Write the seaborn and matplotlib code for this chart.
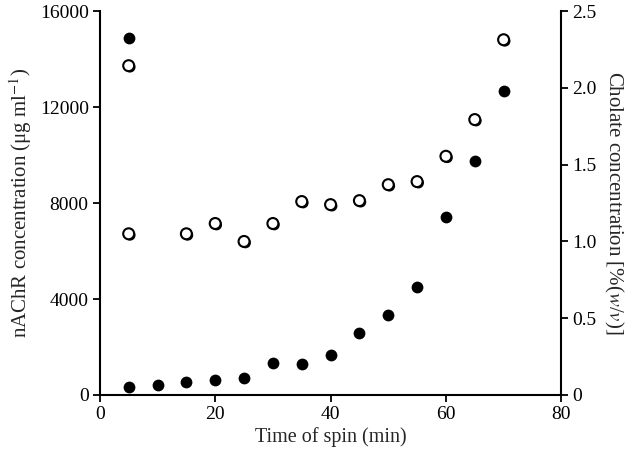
import matplotlib
matplotlib.use("Agg")
import matplotlib.pyplot as plt
import matplotlib.patheffects as pe
import seaborn as sns
import pandas as pd

# Data
time_filled = [5, 5, 10, 15, 20, 25, 30, 35, 40, 45, 50, 55, 60, 65, 70]
nachr_conc = [14900, 325, 410, 550, 615, 690, 1340, 1300, 1660, 2590, 3350, 4510, 7440, 9770, 12690]

time_open = [5, 5, 15, 20, 25, 30, 35, 40, 45, 50, 55, 60, 65, 70]
cholate_conc = [2.145, 1.05, 1.05, 1.117, 1.0, 1.117, 1.26, 1.24, 1.266, 1.37, 1.39, 1.555, 1.794, 2.314]

x_ticks = [0, 20, 40, 60, 80]
left_ticks = [0, 4000, 8000, 12000, 16000]
right_ticks = [0, 0.5, 1.0, 1.5, 2.0, 2.5]
right_ticklabels = ["0", "0.5", "1.0", "1.5", "2.0", "2.5"]

sns.set_style("ticks")
plt.rcParams["font.family"] = ["Liberation Serif", "DejaVu Serif"]
plt.rcParams["mathtext.fontset"] = "stix"

df_f = pd.DataFrame({"t": time_filled, "v": nachr_conc})
df_o = pd.DataFrame({"t": time_open, "v": cholate_conc})

fig = plt.figure(figsize=(6.4, 4.58), dpi=100)
ax = fig.add_axes([0.156, 0.1376, 0.721, 0.838])
ax2 = ax.twinx()

sns.scatterplot(data=df_f, x="t", y="v", ax=ax, color="black", s=72,
                edgecolor="black", linewidth=0, zorder=3, clip_on=False)
sns.scatterplot(data=df_o, x="t", y="v", ax=ax2, color="white", s=62,
                edgecolor="black", linewidth=1.5, zorder=3, clip_on=False)
for coll in ax2.collections:
    coll.set_path_effects([pe.SimplePatchShadow(offset=(1.0, -1.0), shadow_rgbFace="black", alpha=1.0),
                           pe.Normal()])

ax.set_xlim(0, 80)
ax.set_ylim(0, 16000)
ax2.set_ylim(0, 2.5)
ax.set_xticks(x_ticks)
ax.set_yticks(left_ticks)
ax2.set_yticks(right_ticks)
ax2.set_yticklabels(right_ticklabels)

for a in (ax, ax2):
    a.spines["top"].set_visible(False)
    for s in ("left", "right", "bottom"):
        a.spines[s].set_linewidth(1.5)
        a.spines[s].set_color("black")
    a.tick_params(direction="out", length=5, width=1.3, labelsize=14, colors="black", pad=3)
ax.spines["right"].set_visible(False)
ax2.spines["left"].set_visible(False)
ax2.spines["bottom"].set_visible(False)
ax2.spines["right"].set_visible(True)

ax.set_xlabel("Time of spin (min)", fontsize=14.5, labelpad=3)
ax.set_ylabel(r"nAChR concentration (μg ml$^{-1}$)", fontsize=15, labelpad=4)
ax2.set_ylabel(r"Cholate concentration [%($w$/$v$)]", fontsize=15, rotation=270, labelpad=20)

fig.savefig("out.png", dpi=100)
